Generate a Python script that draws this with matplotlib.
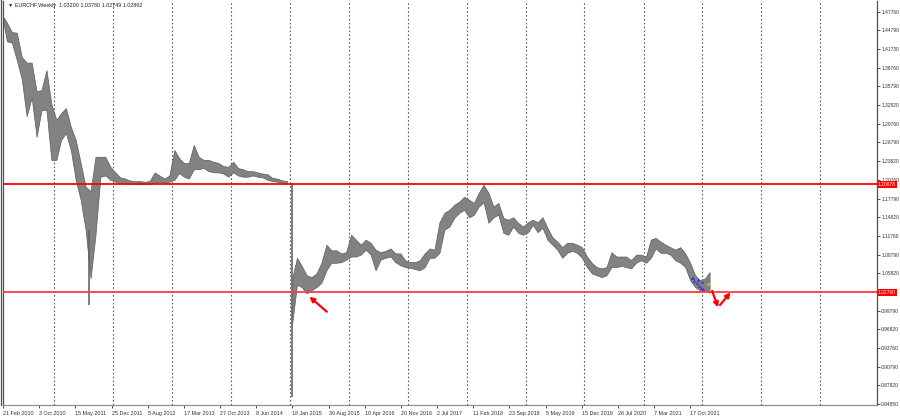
import matplotlib
matplotlib.use("Agg")
import matplotlib.pyplot as plt
import matplotlib.dates as mdates
from matplotlib.lines import Line2D
import pandas as pd

# ---------------- data ----------------
symbol_title = "EURCHF,Weekly"
last_ohlc = ["1.03200", "1.03780", "1.02749", "1.02862"]

first_bar = "2010-02-21"
last_bar = "2022-02-27"
month_starts = pd.date_range("2010-02-01", "2022-02-01", freq="MS")

# monthly low / high of the weekly bars (Feb 2010 ... Feb 2022)
lows = [
    # 2010 Feb-Dec
    1.457, 1.430, 1.428, 1.400, 1.370, 1.310, 1.340, 1.277, 1.320, 1.320, 1.240,
    # 2011
    1.240, 1.272, 1.283, 1.256, 1.208, 1.176, 1.128, 1.050, 1.120, 1.213, 1.215, 1.208,
    # 2012
    1.205, 1.203, 1.202, 1.201, 1.201, 1.201, 1.201, 1.201, 1.203, 1.205, 1.203, 1.205,
    # 2013
    1.208, 1.219, 1.213, 1.210, 1.225, 1.225, 1.227, 1.222, 1.220, 1.220, 1.218, 1.213,
    # 2014
    1.220, 1.215, 1.213, 1.213, 1.215, 1.213, 1.212, 1.208, 1.206, 1.205, 1.203, 1.201,
    # 2015
    0.978, 1.040, 1.036, 1.026, 1.031, 1.036, 1.043, 1.063, 1.075, 1.075, 1.076, 1.080,
    # 2016
    1.085, 1.085, 1.088, 1.096, 1.088, 1.063, 1.080, 1.083, 1.085, 1.076, 1.071, 1.068,
    # 2017
    1.067, 1.065, 1.063, 1.068, 1.083, 1.083, 1.091, 1.128, 1.133, 1.147, 1.155, 1.160,
    # 2018
    1.148, 1.152, 1.165, 1.172, 1.139, 1.148, 1.152, 1.123, 1.120, 1.133, 1.123, 1.120,
    # 2019
    1.124, 1.136, 1.124, 1.131, 1.112, 1.104, 1.096, 1.083, 1.091, 1.094, 1.091, 1.083,
    # 2020
    1.068, 1.058, 1.055, 1.052, 1.055, 1.068, 1.068, 1.070, 1.068, 1.066, 1.075, 1.079,
    # 2021
    1.075, 1.083, 1.098, 1.091, 1.091, 1.088, 1.079, 1.075, 1.068, 1.047, 1.036, 1.031,
    # 2022 Jan-Feb
    1.031, 1.027,
]
highs = [
    # 2010 Feb-Dec
    1.468, 1.460, 1.445, 1.444, 1.405, 1.396, 1.396, 1.350, 1.352, 1.384, 1.330,
    # 2011
    1.304, 1.315, 1.323, 1.293, 1.272, 1.235, 1.197, 1.190, 1.245, 1.245, 1.245, 1.229,
    # 2012
    1.220, 1.212, 1.210, 1.207, 1.206, 1.206, 1.205, 1.206, 1.220, 1.215, 1.210, 1.215,
    # 2013
    1.256, 1.243, 1.235, 1.235, 1.264, 1.245, 1.240, 1.240, 1.237, 1.235, 1.230, 1.229,
    # 2014
    1.237, 1.227, 1.225, 1.222, 1.222, 1.220, 1.218, 1.217, 1.211, 1.210, 1.207, 1.206,
    # 2015
    1.050, 1.083, 1.070, 1.055, 1.052, 1.058, 1.075, 1.104, 1.095, 1.095, 1.090, 1.092,
    # 2016
    1.120, 1.112, 1.104, 1.112, 1.107, 1.096, 1.092, 1.094, 1.098, 1.090, 1.090, 1.079,
    # 2017
    1.076, 1.076, 1.079, 1.090, 1.098, 1.096, 1.140, 1.155, 1.160, 1.168, 1.173, 1.181,
    # 2018
    1.176, 1.171, 1.187, 1.200, 1.187, 1.165, 1.171, 1.147, 1.144, 1.148, 1.139, 1.133,
    # 2019
    1.140, 1.144, 1.140, 1.148, 1.131, 1.116, 1.109, 1.100, 1.107, 1.107, 1.104, 1.100,
    # 2020
    1.085, 1.075, 1.068, 1.066, 1.068, 1.092, 1.085, 1.085, 1.085, 1.079, 1.088, 1.088,
    # 2021
    1.085, 1.112, 1.115, 1.109, 1.104, 1.100, 1.096, 1.100, 1.090, 1.075, 1.055, 1.047,
    # 2022 Jan-Feb
    1.050, 1.060,
]

# the price band is broken (gap) before these months
gap_before = ["2015-01"]

# isolated single-week spikes (date, low, high)
spike_dates = ["2011-08-07", "2015-01-15"]
spike_lows = [1.007, 0.860]
spike_highs = [1.128, 1.203]

# horizontal levels
levels = [1.20078, 1.02760]
level_colors = ["#ff0000", "#ff3b3b"]

# axis ticks
y_ticks = [1.47760, 1.44790, 1.41730, 1.38760, 1.35790, 1.32820, 1.29760,
           1.26790, 1.23820, 1.20760, 1.17790, 1.14820, 1.11760, 1.08790,
           1.05820, 1.02760, 0.99790, 0.96820, 0.93760, 0.90790, 0.87820,
           0.84850]
x_tick_labels = ["21 Feb 2010", "3 Oct 2010", "15 May 2011", "25 Dec 2011",
                 "5 Aug 2012", "17 Mar 2013", "27 Oct 2013", "8 Jun 2014",
                 "18 Jan 2015", "30 Aug 2015", "10 Apr 2016", "20 Nov 2016",
                 "2 Jul 2017", "11 Feb 2018", "23 Sep 2018", "5 May 2019",
                 "15 Dec 2019", "26 Jul 2020", "7 Mar 2021", "17 Oct 2021"]
grid_years = list(range(2011, 2025))

# annotations: arrows (start date, start price, end date, end price)
arrow_from_dates = ["2015-08-19", "2022-03-02", "2022-04-20"]
arrow_from_prices = [0.9965, 1.0297, 1.0073]
arrow_to_dates = ["2015-05-03", "2022-04-08", "2022-06-24"]
arrow_to_prices = [1.0206, 1.0035, 1.0275]

# small blue wave marks
blue_dates = ["2021-10-28", "2021-11-12", "2021-11-26", "2021-12-10",
              "2021-12-24", "2022-01-07", "2021-11-05", "2021-12-02",
              "2021-12-30"]
blue_prices = [1.0506, 1.0460, 1.0420, 1.0385, 1.0350, 1.0330,
               1.0500, 1.0480, 1.0440]
orange_date = ["2022-02-06"]
orange_price = [1.0410]

# ---------------- drawing ----------------
FONT = ["Liberation Sans", "DejaVu Sans"]
plt.rcParams["font.family"] = FONT
FS = 3.9
FS_Y = 3.55

fig = plt.figure(figsize=(9.0, 4.17), dpi=100)
fig.patch.set_facecolor("white")
ax = fig.add_axes([3 / 900, 12 / 417, 874 / 900, 404 / 417])

x_left = pd.Timestamp("2010-02-20")
x_right = x_left + pd.Timedelta(days=874 * 7 / 1.13)
ax.set_xlim(mdates.date2num(x_left), mdates.date2num(x_right))
ax.set_ylim(0.8469, 1.4948)

# year grid lines
for yr in grid_years:
    ax.axvline(mdates.date2num(pd.Timestamp(f"{yr}-01-01")), color="#5a5a5a",
               lw=0.8, ls=(0, (1.5, 2.0)), zorder=1)

# price band: monthly low/high joined month to month
fb = pd.Timestamp(first_bar)
lb = pd.Timestamp(last_bar)
centers = []
for ms in month_starts:
    start = max(ms, fb)
    end = min(ms + pd.offsets.MonthBegin(1), lb)
    centers.append(mdates.date2num(start + (end - start) / 2))

breaks = [0] + [list(month_starts.strftime("%Y-%m")).index(g) for g in gap_before] + [len(centers)]
for a, b in zip(breaks[:-1], breaks[1:]):
    ax.fill_between(centers[a:b], lows[a:b], highs[a:b], color="#828282",
                    edgecolor="#5c5c5c", linewidth=0.5, zorder=3)

for d, lo, hi in zip(spike_dates, spike_lows, spike_highs):
    ax.vlines(mdates.date2num(pd.Timestamp(d)), lo, hi, color="#666666",
              lw=1.2, zorder=3)

# horizontal levels
for lv, c in zip(levels, level_colors):
    ax.axhline(lv, color=c, lw=1.3, zorder=4)

# blue wave marks and arrows
bx = [mdates.date2num(pd.Timestamp(d)) for d in blue_dates]
ax.plot(bx, blue_prices, ls="none", marker="^", ms=1.5, mfc="none",
        mec="#2a2aff", mew=0.5, zorder=5)
ax.plot([mdates.date2num(pd.Timestamp(d)) for d in orange_date], orange_price,
        ls="none", marker="o", ms=1.3, color="#f0a020", zorder=5)

for fd, fp, td, tp in zip(arrow_from_dates, arrow_from_prices,
                          arrow_to_dates, arrow_to_prices):
    ax.annotate("", xy=(mdates.date2num(pd.Timestamp(td)), tp),
                xytext=(mdates.date2num(pd.Timestamp(fd)), fp),
                arrowprops=dict(arrowstyle="-|>", color="red", lw=1.6,
                                mutation_scale=7, shrinkA=0, shrinkB=0),
                zorder=6)

# axes styling
ax.spines["top"].set_visible(False)
ax.spines["left"].set_color("#505050")
ax.spines["right"].set_color("#505050")
ax.spines["bottom"].set_color("#909090")
for s in ["left", "right", "bottom"]:
    ax.spines[s].set_linewidth(0.9)

ax.yaxis.tick_right()
ax.set_yticks(y_ticks)
ax.set_yticklabels(["" if abs(v - levels[1]) < 1e-9 else f"{v:.5f}" for v in y_ticks])
ax.tick_params(axis="y", direction="out", length=2.0, width=0.6,
               pad=1.0, labelsize=FS_Y, colors="#303030")

xt = [mdates.date2num(pd.to_datetime(s, format="%d %b %Y")) for s in x_tick_labels]
ax.set_xticks(xt)
ax.set_xticklabels(x_tick_labels)
ax.tick_params(axis="x", direction="out", length=2.5, width=0.6,
               pad=1.5, labelsize=FS, colors="#303030")
for lab in ax.get_xticklabels():
    lab.set_horizontalalignment("left")

# red level price tags on the right axis
for lv in levels:
    ax.text(1.0012, lv, f"{lv:.5f}", transform=ax.get_yaxis_transform(),
            ha="left", va="center", fontsize=FS_Y, color="white", zorder=10,
            bbox=dict(facecolor="#ff0000", edgecolor="none", pad=0.7),
            clip_on=False)

# header
ax.text(0.006, 0.994, "\u25BC " + symbol_title + "  " + " ".join(last_ohlc),
        transform=ax.transAxes, ha="left", va="top", fontsize=FS,
        color="#202020", zorder=10)

# outer left frame line
fig.add_artist(Line2D([0.6 / 900, 0.6 / 900], [12 / 417, 1.0],
                      transform=fig.transFigure, color="#505050", lw=0.9))

fig.savefig("out.png", dpi=100, facecolor="white")
